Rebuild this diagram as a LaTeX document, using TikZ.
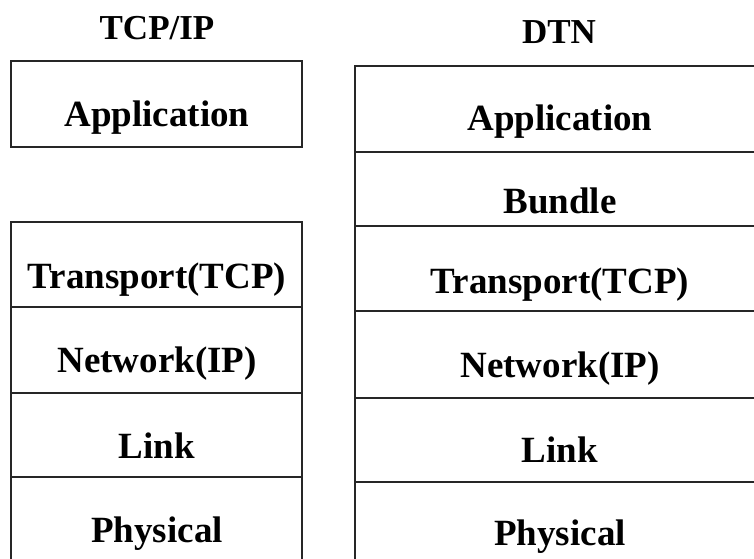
\documentclass[tikz,border=0pt]{standalone}
\usepackage{fontspec}
\setmainfont{Liberation Serif}
\begin{document}
\begin{tikzpicture}[x=1pt,y=1pt,
  layerbox/.style={draw=black!85, line width=2pt},
  titletext/.style={anchor=base, inner sep=0pt, font=\bfseries\fontsize{35}{40}\selectfont},
  layertext/.style={anchor=base, inner sep=0pt, font=\bfseries\fontsize{37}{42}\selectfont},
]
\useasboundingbox (0,0) rectangle (754,558);
\clip (0,0) rectangle (754,558);
\fill[white] (0,0) rectangle (754,558);

% TCP/IP stack
\node[titletext] (tcpip) at (157,518) {TCP/IP};
\draw[layerbox] (11,411) rectangle (302,497);
\draw[layerbox] (11,-10) rectangle (302,336);
\draw[layerbox] (11,251) -- (302,251);
\draw[layerbox] (11,165) -- (302,165);
\draw[layerbox] (11,81) -- (302,81);
\node[layertext] (lapp) at (157,431) {Application};
\node[layertext] (ltrans) at (157,270) {Transport(TCP)};
\node[layertext] (lnet) at (157,186) {Network(IP)};
\node[layertext] (llink) at (157,100) {Link};
\node[layertext] (lphys) at (157,16) {Physical};

% DTN stack
\node[titletext] (dtn) at (559,514) {DTN};
\draw[layerbox] (355,-10) rectangle (770,492);
\draw[layerbox] (355,406) -- (770,406);
\draw[layerbox] (355,332) -- (770,332);
\draw[layerbox] (355,247) -- (770,247);
\draw[layerbox] (355,160) -- (770,160);
\draw[layerbox] (355,76) -- (770,76);
\node[layertext] (rapp) at (560,428) {Application};
\node[layertext] (rbundle) at (560,345) {Bundle};
\node[layertext] (rtrans) at (560,265) {Transport(TCP)};
\node[layertext] (rnet) at (560,181) {Network(IP)};
\node[layertext] (rlink) at (560,96) {Link};
\node[layertext] (rphys) at (560,13) {Physical};
\end{tikzpicture}
\end{document}
